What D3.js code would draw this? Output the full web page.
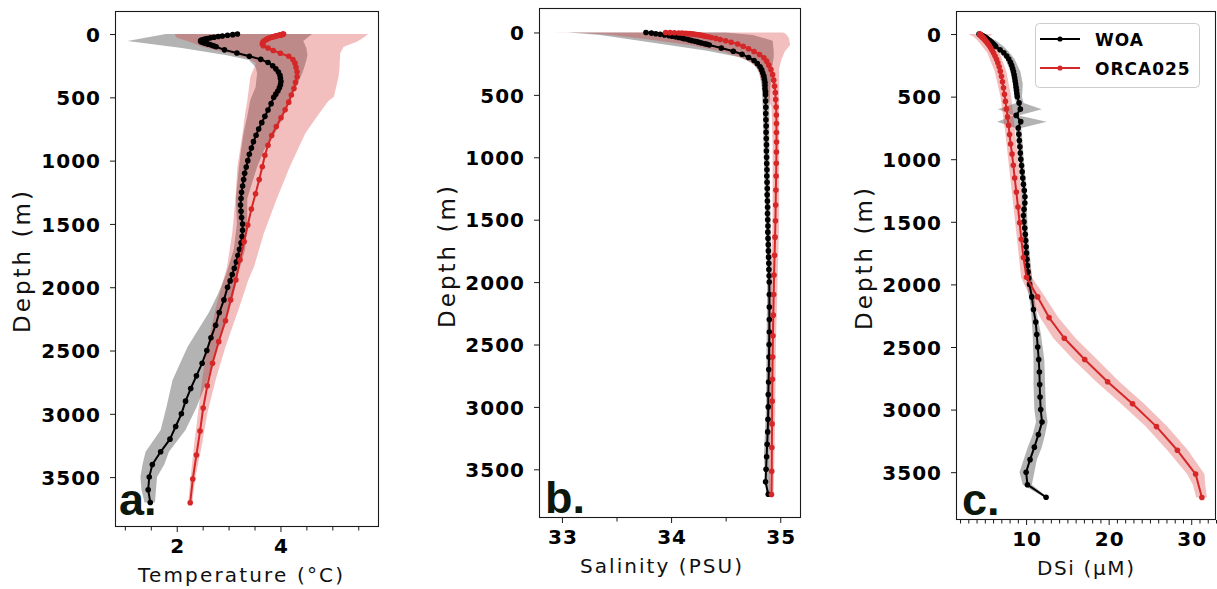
<!DOCTYPE html>
<html><head><meta charset="utf-8">
<script src="https://cdn.jsdelivr.net/npm/d3@7"></script>
<style>
html,body{margin:0;padding:0;background:#fff;}
svg{display:block;}
</style></head><body>
<svg id="chart" width="1217" height="589"></svg>
<script>
// ---------------- DATA ----------------
const woaDepth = [0,5,10,15,20,25,30,35,40,45,50,55,60,65,70,75,80,85,90,95,100,
  125,150,175,200,225,250,275,300,325,350,375,400,425,450,475,500,
  550,600,650,700,750,800,850,900,950,1000,1050,1100,1150,1200,1250,1300,1350,1400,1450,1500,
  1550,1600,1650,1700,1750,1800,1850,1900,1950,2000,
  2100,2200,2300,2400,2500,2600,2700,2800,2900,3000,3100,3200,3300,3400,3500,3600,3700];
const orcaDepth = [0.5,1.5,2.6,3.8,5.1,6.4,7.9,9.6,11.4,13.5,15.8,18.5,21.6,25.2,29.4,34.4,40.3,47.4,55.8,65.8,
  77.9,92,110,130,152,176,202,230,262,298,338,382,430,482,538,598,662,730,802,878,
  958,1048,1150,1262,1382,1508,1640,1785,1943,2100,2265,2430,2600,2778,2954,3136,3325,3515,3702];

const woaTemp = [3.17,3.08,2.98,2.88,2.80,2.72,2.65,2.59,2.54,2.50,2.47,2.46,2.47,2.50,2.53,2.57,2.61,2.65,2.69,2.72,2.76,
  2.92,3.16,3.40,3.62,3.76,3.85,3.91,3.96,3.99,4.00,4.01,4.00,3.98,3.95,3.91,3.87,
  3.82,3.76,3.70,3.64,3.58,3.53,3.48,3.44,3.40,3.37,3.34,3.31,3.29,3.27,3.25,3.24,3.23,3.24,3.25,3.27,
  3.27,3.26,3.24,3.21,3.18,3.15,3.11,3.07,3.03,2.98,
  2.91,2.82,2.75,2.66,2.58,2.49,2.38,2.27,2.17,2.09,1.98,1.87,1.69,1.53,1.47,1.45,1.49];
const orcaTemp = [4.06,4.05,4.04,4.03,4.02,4.01,3.99,3.97,3.95,3.93,3.91,3.89,3.86,3.83,3.80,3.77,3.74,3.71,3.68,3.66,
  3.65,3.67,3.76,3.86,4.00,4.16,4.24,4.28,4.30,4.32,4.32,4.29,4.26,4.21,4.16,4.09,4.01,3.92,3.83,3.76,
  3.70,3.65,3.59,3.52,3.44,3.37,3.30,3.22,3.14,3.04,2.94,2.81,2.69,2.59,2.51,2.45,2.38,2.31,2.26];

const woaSal = [33.77,33.82,33.86,33.90,33.94,33.98,34.01,34.04,34.07,34.10,34.12,34.15,34.17,34.19,34.22,34.24,34.26,34.28,34.31,34.33,34.35,
  34.46,34.57,34.65,34.71,34.76,34.79,34.815,34.83,34.84,34.85,34.855,34.86,34.86,34.86,34.865,34.865,
  34.866,34.868,34.867,34.869,34.871,34.870,34.872,34.874,34.873,34.875,34.876,34.878,34.877,34.879,34.881,34.880,34.882,34.884,34.883,34.885,
  34.887,34.886,34.888,34.890,34.891,34.893,34.895,34.896,34.898,34.899,
  34.90,34.90,34.90,34.90,34.898,34.897,34.895,34.893,34.89,34.89,34.888,34.885,34.88,34.875,34.87,34.865,34.89];
const orcaSal = [33.95,33.99,34.03,34.07,34.10,34.13,34.15,34.17,34.19,34.21,34.23,34.25,34.27,34.29,34.31,34.34,34.37,34.41,34.45,34.50,
  34.55,34.61,34.66,34.71,34.76,34.81,34.85,34.875,34.895,34.915,34.93,34.94,34.948,34.955,34.958,34.962,34.964,34.965,34.965,34.966,
  34.965,34.964,34.962,34.96,34.958,34.956,34.952,34.948,34.943,34.94,34.936,34.933,34.93,34.928,34.926,34.925,34.923,34.922,34.92];

const woaSi = [4.30,4.45,4.60,4.75,4.90,5.00,5.10,5.20,5.30,5.40,5.50,5.60,5.68,5.76,5.85,5.93,6.00,6.08,6.16,6.24,6.32,
  6.85,7.30,7.65,7.90,8.10,8.25,8.37,8.47,8.55,8.62,8.68,8.74,8.79,8.84,8.88,8.93,
  9.15,9.30,8.80,9.35,9.05,9.12,9.18,9.25,9.30,9.36,9.45,9.52,9.60,9.68,9.78,9.86,9.85,9.75,9.68,9.74,
  9.84,9.90,9.95,10.00,10.05,10.10,10.16,10.24,10.32,10.42,
  10.69,10.89,11.17,11.29,11.41,11.53,11.61,11.65,11.69,11.77,11.93,11.49,11.00,10.48,10.00,10.16,12.42];
const orcaSi = [4.40,4.41,4.42,4.43,4.45,4.46,4.48,4.50,4.52,4.55,4.58,4.62,4.66,4.71,4.77,4.84,4.92,5.01,5.12,5.24,
  5.38,5.53,5.70,5.88,6.06,6.24,6.42,6.58,6.74,6.88,7.02,7.14,7.26,7.38,7.50,7.62,7.75,7.88,8.00,8.12,
  8.30,8.45,8.62,8.82,9.02,9.22,9.42,9.68,10.05,11.40,12.78,14.63,17.10,19.87,22.89,25.79,28.32,30.53,31.29];

// Spread envelopes (lo / hi) read from the shaded areas
const tempWoaBandDepth = [0,55,110,165,205,260,310,420,520,650,780,920,1050,1300,1500,1700,1900,2050,2200,2470,2733,2950,3128,3300,3400,3500,3600,3700];
const tempWoaLo = [1.79,1.05,2.10,2.94,3.39,3.52,3.55,3.52,3.42,3.36,3.29,3.24,3.20,3.14,3.16,3.10,2.95,2.80,2.62,2.21,1.92,1.80,1.69,1.40,1.34,1.30,1.32,1.38];
const tempWoaHi = [4.61,4.44,4.50,4.52,4.50,4.46,4.42,4.30,4.16,4.06,3.90,3.68,3.55,3.36,3.36,3.32,3.18,3.10,3.00,2.78,2.59,2.38,2.17,1.85,1.76,1.62,1.60,1.58];
const tempOrcaBandDepth = [0,30,60,100,152,192,231,258,337,495,530,626,784,916,1048,1311,1574,1838,1943,2167,2470,2733,2996,3260,3500,3702];
const tempOrcaLo = [1.96,2.00,2.25,2.49,3.01,3.37,3.53,3.50,3.42,3.37,3.36,3.32,3.27,3.22,3.17,3.13,3.07,2.97,2.90,2.75,2.59,2.49,2.41,2.33,2.27,2.22];
const tempOrcaHi = [5.69,5.60,5.47,5.22,5.15,5.15,5.14,5.14,5.12,5.03,4.92,4.75,4.48,4.33,4.18,3.92,3.68,3.49,3.38,3.20,2.94,2.75,2.59,2.48,2.36,2.30];

const salWoaBandDepth = [0,20,66,146,199,252,327,434,615,1000,2000,3000,3400,3700];
const salWoaLo = [33.06,33.35,33.71,34.33,34.63,34.76,34.81,34.83,34.84,34.85,34.88,34.87,34.85,34.87];
const salWoaHi = [34.50,34.75,34.93,34.94,34.94,34.93,34.92,34.91,34.90,34.90,34.92,34.91,34.90,34.91];
const salOrcaBandDepth = [0,5,20,47,100,154,220,287,367,461,600,900,1500,2000,2500,3000,3702];
const salOrcaLo = [32.90,33.20,33.45,33.71,34.17,34.48,34.70,34.79,34.82,34.85,34.92,34.93,34.93,34.91,34.90,34.90,34.90];
const salOrcaHi = [35.02,35.04,35.06,35.08,35.09,35.04,35.01,34.99,34.99,34.99,34.99,34.99,34.99,34.975,34.96,34.955,34.94];

const siWoaBandDepth = [0,50,100,150,200,300,400,500,550,600,650,700,750,800,1000,1200,1400,1600,1800,2000,2200,2400,2600,2800,3000,3100,3200,3300,3400,3500,3600,3700];
const siWoaLo = [3.9,5.2,5.9,6.8,7.5,8.1,8.4,8.6,8.8,6.6,8.5,6.5,8.7,8.8,9.1,9.4,9.5,9.6,9.8,10.1,10.6,10.8,10.9,10.9,11.0,11.2,10.8,10.2,9.7,9.2,9.6,12.2];
const siWoaHi = [4.7,6.3,7.3,8.0,8.6,9.3,9.6,9.5,9.7,11.9,9.1,12.5,9.4,9.5,9.7,10.0,10.1,10.2,10.5,10.8,11.2,11.8,12.2,12.3,12.4,12.6,12.3,11.9,11.3,11.0,10.7,12.6];
const siOrcaBandDepth = [0,20,50,150,300,500,800,1100,1400,1700,1943,2100,2265,2430,2600,2778,2954,3136,3325,3515,3600,3702];
const siOrcaLo = [3.0,3.6,4.1,5.3,6.2,6.9,7.5,8.0,8.5,9.0,9.4,10.5,11.7,13.3,15.7,18.5,21.5,24.5,27.1,29.5,30.2,30.6];
const siOrcaHi = [5.9,5.5,5.9,6.8,7.6,8.2,8.7,9.2,9.6,10.1,10.7,12.3,13.9,16.0,18.6,21.3,24.3,27.1,29.6,31.6,31.7,31.9];

// Ticks
const depthTicks = [0,500,1000,1500,2000,2500,3000,3500];
const tempTicks = [2,4];
const tempMinor = [1,1.5,2.5,3,3.5,4.5,5,5.5];
const salTicks = [33,34,35];
const salMinor = [33.5,34.5];
const siTicks = [10,20,30];
const siMinor = [2,3,4,5,6,7,8,9,11,12,13,14,15,16,17,18,19,21,22,23,24,25,26,27,28,29,31,32,33];
const seriesNames = ["WOA","ORCA025"];

// ---------------- DRAW ----------------
const svg = d3.select('#chart');
const BLACK = '#000000', RED = '#d62728', GREY = '#808080';
const tickFont = "'DejaVu Sans', Verdana, sans-serif";

const zip = (dep, a, b) => dep.map((d,i)=>({d, lo:a[i], hi:b[i]}));
const pts = (dep, v) => dep.map((d,i)=>({d, v:v[i]}));

const panels = [
  {id:'a', left:115, right:379, top:11, bottom:527, xDomain:[0.81,5.90], yDomain:[-182,3894],
   woa:pts(woaDepth,woaTemp), orca:pts(orcaDepth,orcaTemp),
   woaBand:zip(tempWoaBandDepth,tempWoaLo,tempWoaHi), orcaBand:zip(tempOrcaBandDepth,tempOrcaLo,tempOrcaHi),
   major:tempTicks, minor:tempMinor, xlabel:'Temperature (°C)', xlabelX:138, xlabelW:205,
   ylabelX:30, ylabelY:262, ylabelW:142, letter:'a.', letterX:119, letterY:515},
  {id:'b', left:539, right:801, top:8, bottom:518, xDomain:[32.79,35.19], yDomain:[-196,3890],
   woa:pts(woaDepth,woaSal), orca:pts(orcaDepth,orcaSal),
   woaBand:zip(salWoaBandDepth,salWoaLo,salWoaHi), orcaBand:zip(salOrcaBandDepth,salOrcaLo,salOrcaHi),
   major:salTicks, minor:salMinor, xlabel:'Salinity (PSU)', xlabelX:580, xlabelW:162,
   ylabelX:455, ylabelY:257, ylabelW:142, letter:'b.', letterX:545, letterY:513},
  {id:'c', left:956, right:1216, top:11, bottom:520, xDomain:[1.51,33.0], yDomain:[-184,3882],
   woa:pts(woaDepth,woaSi), orca:pts(orcaDepth,orcaSi),
   woaBand:zip(siWoaBandDepth,siWoaLo,siWoaHi), orcaBand:zip(siOrcaBandDepth,siOrcaLo,siOrcaHi),
   major:siTicks, minor:siMinor, xlabel:'DSi (µM)', xlabelX:1037, xlabelW:97,
   ylabelX:872, ylabelY:259, ylabelW:142, letter:'c.', letterX:962, letterY:515, legend:true}
];

const defs = svg.append('defs');

panels.forEach(p => {
  const x = d3.scaleLinear().domain(p.xDomain).range([p.left, p.right]);
  const y = d3.scaleLinear().domain(p.yDomain).range([p.top, p.bottom]);
  const g = svg.append('g');

  defs.append('clipPath').attr('id','clip-'+p.id).append('rect')
    .attr('x',p.left).attr('y',p.top).attr('width',p.right-p.left).attr('height',p.bottom-p.top);
  const plot = g.append('g').attr('clip-path',`url(#clip-${p.id})`);

  const area = d3.area().y(d=>y(d.d)).x0(d=>x(d.lo)).x1(d=>x(d.hi));
  plot.append('path').datum(p.woaBand).attr('d',area).attr('fill',GREY).attr('fill-opacity',0.6);
  plot.append('path').datum(p.orcaBand).attr('d',area).attr('fill',RED).attr('fill-opacity',0.3);

  const line = d3.line().x(d=>x(d.v)).y(d=>y(d.d));
  [[p.woa,BLACK],[p.orca,RED]].forEach(([data,col]) => {
    plot.append('path').datum(data).attr('d',line).attr('fill','none')
      .attr('stroke',col).attr('stroke-width',2).attr('stroke-linejoin','round');
    plot.append('g').selectAll('circle').data(data).join('circle')
      .attr('cx',d=>x(d.v)).attr('cy',d=>y(d.d)).attr('r',2.8).attr('fill',col);
  });

  // frame
  g.append('rect').attr('x',p.left+0.5).attr('y',p.top+0.5)
    .attr('width',p.right-p.left-1).attr('height',p.bottom-p.top-1)
    .attr('fill','none').attr('stroke','#1a1a1a').attr('stroke-width',1.1);

  // y axis
  const ya = g.append('g').attr('transform',`translate(${p.left},0)`)
    .call(d3.axisLeft(y).tickValues(depthTicks).tickSize(5).tickPadding(9).tickFormat(d3.format('d')));
  ya.select('.domain').remove();
  ya.selectAll('line').attr('stroke','#1a1a1a');
  ya.selectAll('text').attr('font-family',tickFont).attr('font-weight','bold')
    .attr('font-size',20).attr('letter-spacing',1).attr('fill','#000').attr('dy','0.36em');

  // x axis major
  const xa = g.append('g').attr('transform',`translate(0,${p.bottom})`)
    .call(d3.axisBottom(x).tickValues(p.major).tickSize(5).tickPadding(7).tickFormat(d3.format('d')));
  xa.select('.domain').remove();
  xa.selectAll('line').attr('stroke','#1a1a1a');
  xa.selectAll('text').attr('font-family',tickFont).attr('font-weight','bold')
    .attr('font-size',20).attr('letter-spacing',1).attr('fill','#000').attr('dx',0.5);
  // x axis minor
  const xm = g.append('g').attr('transform',`translate(0,${p.bottom})`)
    .call(d3.axisBottom(x).tickValues(p.minor).tickSize(3.5).tickFormat(''));
  xm.select('.domain').remove();
  xm.selectAll('line').attr('stroke','#1a1a1a');

  // labels
  g.append('text').attr('x',p.xlabelX).attr('y',p.bottom+55)
    .attr('textLength',p.xlabelW).attr('lengthAdjust','spacing')
    .attr('font-family',tickFont).attr('font-size',20).attr('fill','#111').text(p.xlabel);
  g.append('text').attr('transform',`translate(${p.ylabelX},${p.ylabelY}) rotate(-90)`)
    .attr('x',-p.ylabelW/2).attr('textLength',p.ylabelW).attr('lengthAdjust','spacing')
    .attr('font-family',tickFont).attr('font-size',23).attr('fill','#111').text('Depth (m)');

  g.append('text').attr('x',p.letterX).attr('y',p.letterY)
    .attr('font-family',"'Liberation Sans', Arial, sans-serif").attr('font-weight','bold')
    .attr('font-size',45).attr('fill','#0b180b').text(p.letter);

  if (p.legend) {
    const lg = g.append('g');
    lg.append('rect').attr('x',1035.5).attr('y',23.5).attr('width',164).attr('height',64).attr('rx',4)
      .attr('fill','#fff').attr('fill-opacity',0.85).attr('stroke','#cccccc').attr('stroke-width',1);
    [[seriesNames[0],BLACK,39],[seriesNames[1],RED,68]].forEach(([name,col,ly]) => {
      lg.append('line').attr('x1',1040).attr('x2',1080).attr('y1',ly).attr('y2',ly)
        .attr('stroke',col).attr('stroke-width',2);
      lg.append('circle').attr('cx',1060).attr('cy',ly).attr('r',2.6).attr('fill',col);
      lg.append('text').attr('x',1095).attr('y',ly+6.5).attr('font-family',tickFont)
        .attr('font-weight','bold').attr('font-size',17).attr('letter-spacing',1).attr('fill','#000').text(name);
    });
  }
});
</script>
</body></html>
